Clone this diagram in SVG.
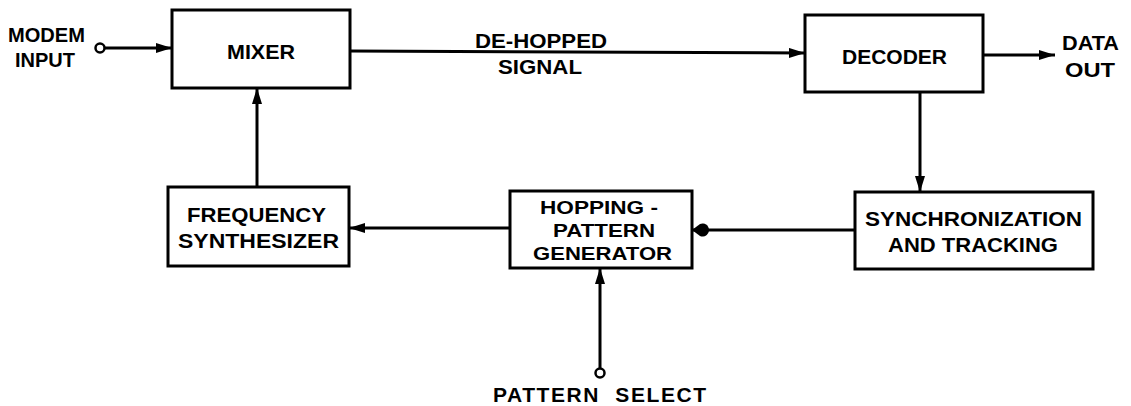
<svg xmlns="http://www.w3.org/2000/svg" width="1131" height="406" viewBox="0 0 1131 406">
<style>
.box{fill:#fff;stroke:#000;stroke-width:3}
.ln{fill:none;stroke:#000;stroke-width:3}
.t{font-family:"Liberation Sans",Arial,sans-serif;font-weight:bold;font-size:21px;fill:#000;text-anchor:middle}
.s{font-size:19px}
.port{fill:#fff;stroke:#000;stroke-width:2.5}
</style>
<defs>
<marker id="ah" viewBox="0 0 16 10" refX="16" refY="5" markerWidth="16" markerHeight="10" markerUnits="userSpaceOnUse" orient="auto">
<path d="M0,0 L16,5 L0,10 Z" fill="#000"/>
</marker>
<marker id="dot" viewBox="0 0 18 14" refX="18" refY="7" markerWidth="18" markerHeight="14" markerUnits="userSpaceOnUse" orient="auto">
<path d="M18,7 L10,1 A6.5,6.5 0 1 0 10,13 Z" fill="#000"/>
</marker>
</defs>
<rect width="1131" height="406" fill="#fff"/>
<g id="connectors">
<line class="ln" x1="104" y1="48" x2="172" y2="48" marker-end="url(#ah)"/>
<circle class="port" cx="100" cy="48" r="4.5"/>
<line class="ln" x1="350" y1="51" x2="805" y2="53" marker-end="url(#ah)"/>
<line class="ln" x1="983" y1="55" x2="1055" y2="55" marker-end="url(#ah)"/>
<line class="ln" x1="920" y1="92" x2="920" y2="192" marker-end="url(#ah)"/>
<line class="ln" x1="855" y1="230" x2="692" y2="230" marker-end="url(#dot)"/>
<line class="ln" x1="510" y1="228" x2="349" y2="228" marker-end="url(#ah)"/>
<line class="ln" x1="257" y1="187" x2="257" y2="88" marker-end="url(#ah)"/>
<line class="ln" x1="600" y1="368" x2="600" y2="268" marker-end="url(#ah)"/>
<circle class="port" cx="600" cy="373" r="4.5"/>
<text class="t" x="541" y="48" textLength="132" lengthAdjust="spacingAndGlyphs">DE-HOPPED</text>
<text class="t" x="540" y="74" textLength="84" lengthAdjust="spacingAndGlyphs">SIGNAL</text>
</g>
<g id="modem-input"><text class="t" x="46.5" y="42" textLength="77" lengthAdjust="spacingAndGlyphs">MODEM</text><text class="t" x="45" y="67" textLength="60" lengthAdjust="spacingAndGlyphs">INPUT</text></g>
<g id="mixer"><rect class="box" x="172" y="10" width="178" height="78"/><text class="t" x="261" y="59" textLength="68" lengthAdjust="spacingAndGlyphs">MIXER</text></g>
<g id="decoder"><rect class="box" x="805" y="15" width="178" height="77"/><text class="t" x="894.5" y="64" textLength="105" lengthAdjust="spacingAndGlyphs">DECODER</text></g>
<g id="data-out"><text class="t" x="1090.5" y="50" textLength="57" lengthAdjust="spacingAndGlyphs">DATA</text><text class="t" x="1090" y="77" textLength="50" lengthAdjust="spacingAndGlyphs">OUT</text></g>
<g id="sync"><rect class="box" x="855" y="192" width="238" height="77"/><text class="t" x="973.5" y="226" textLength="217" lengthAdjust="spacingAndGlyphs">SYNCHRONIZATION</text><text class="t" x="973" y="252" textLength="170" lengthAdjust="spacingAndGlyphs">AND TRACKING</text></g>
<g id="hpg"><rect class="box" x="510" y="191" width="182" height="77"/><text class="t s" x="599" y="214" textLength="118" lengthAdjust="spacingAndGlyphs">HOPPING -</text><text class="t s" x="604" y="237" textLength="102" lengthAdjust="spacingAndGlyphs">PATTERN</text><text class="t s" x="602.5" y="260" textLength="139" lengthAdjust="spacingAndGlyphs">GENERATOR</text></g>
<g id="freq"><rect class="box" x="168" y="187" width="181" height="79"/><text class="t" x="256.5" y="222" textLength="139" lengthAdjust="spacingAndGlyphs">FREQUENCY</text><text class="t" x="258.5" y="248" textLength="161" lengthAdjust="spacingAndGlyphs">SYNTHESIZER</text></g>
<g id="pattern-select"><text class="t" x="600" y="402" textLength="214" lengthAdjust="spacing" style="letter-spacing:1px;word-spacing:8px">PATTERN SELECT</text></g>
</svg>
